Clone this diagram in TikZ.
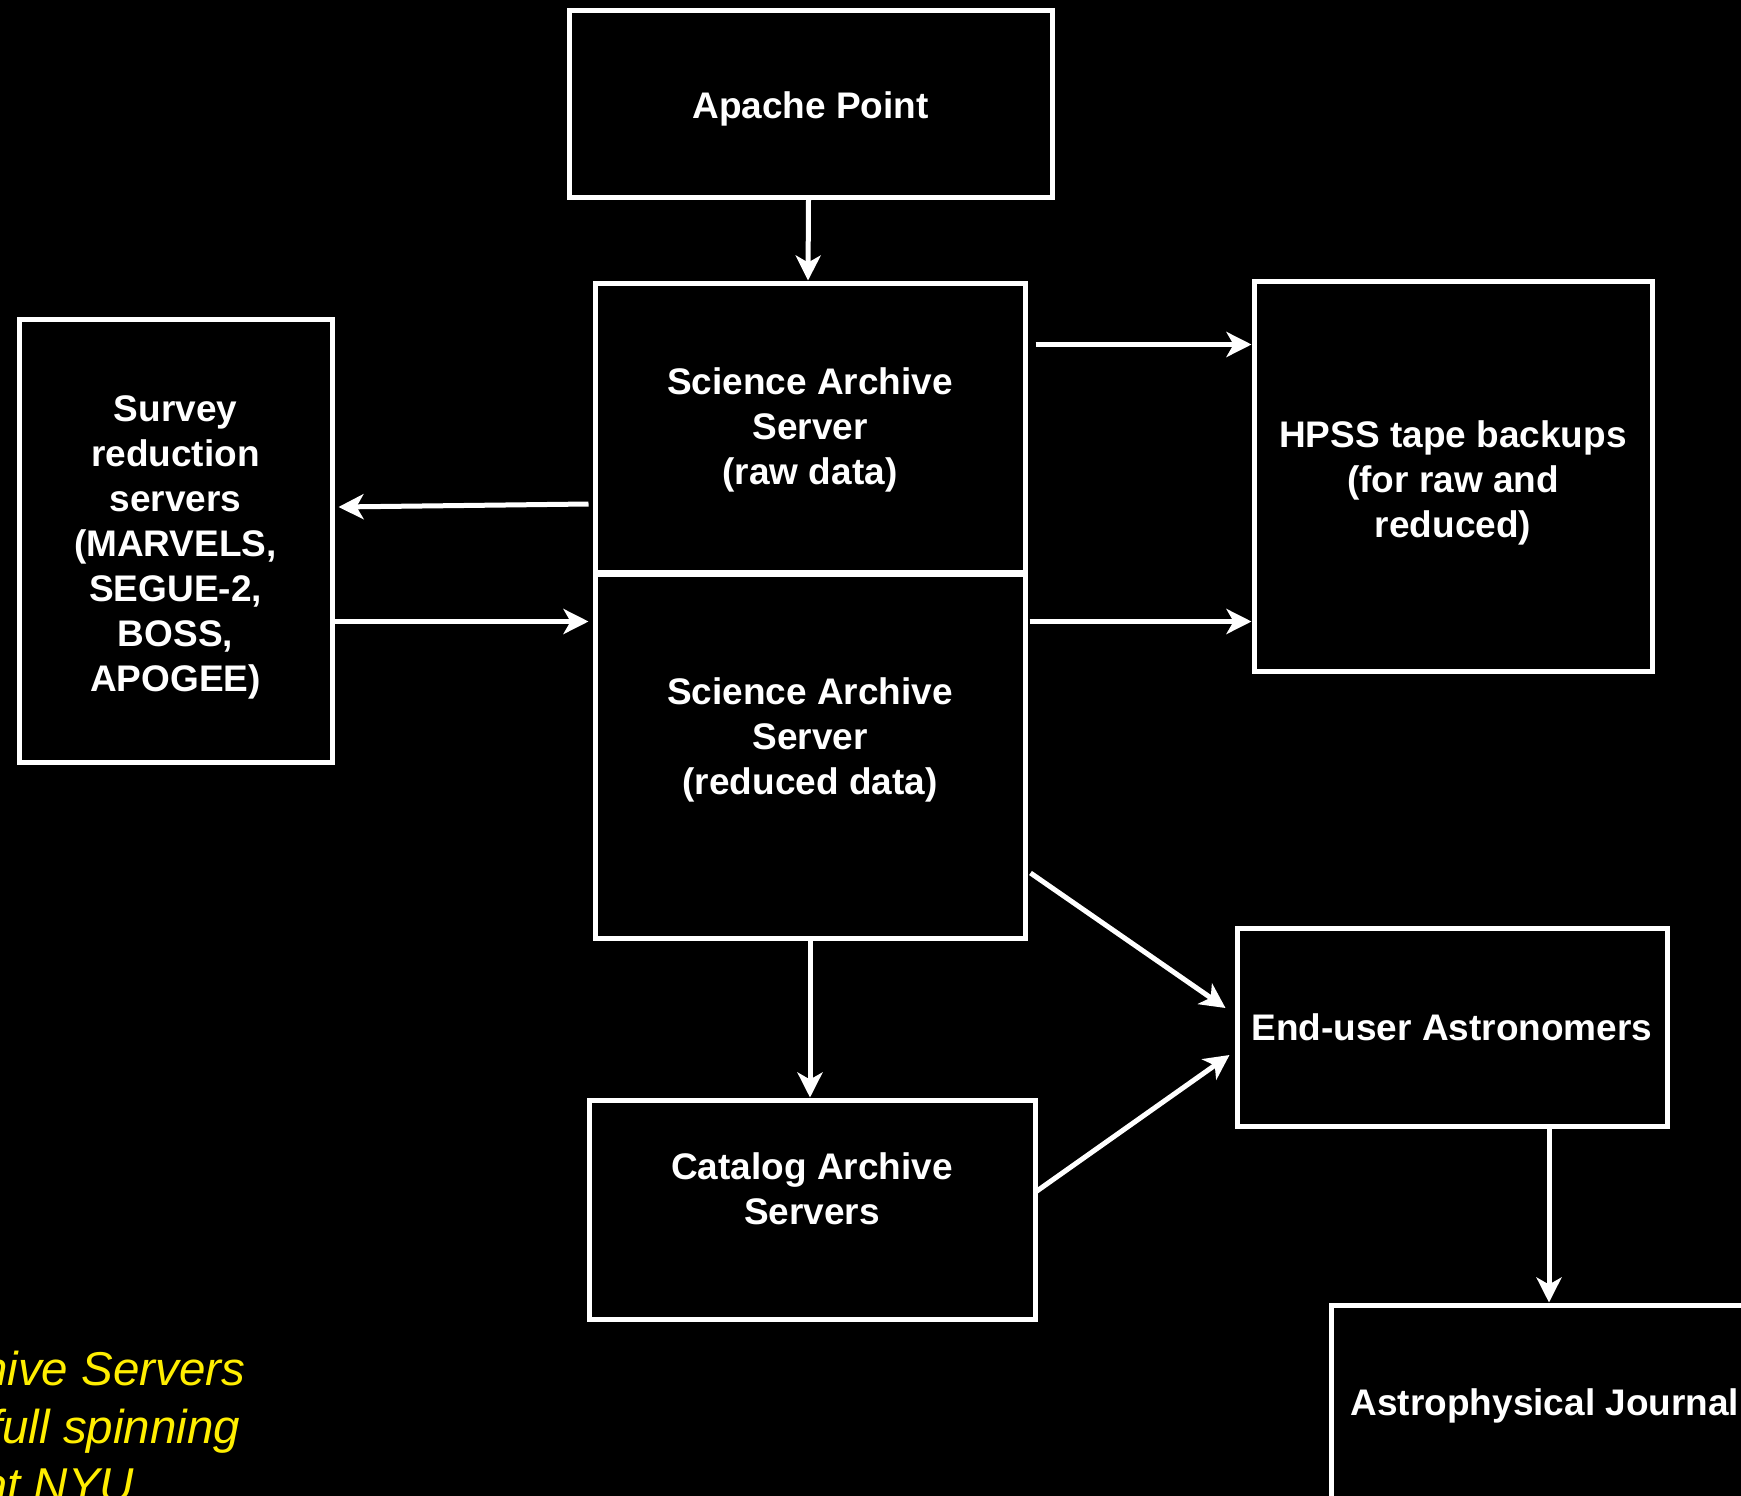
\documentclass[tikz,border=0pt]{standalone}
\usepackage{fontspec}
\setmainfont{Liberation Sans}
\usepackage{tikz}
\usetikzlibrary{calc}
\usetikzlibrary{arrows.meta}
\definecolor{notey}{RGB}{255,238,0}
\newcommand{\blockw}[7]{\node[blk, minimum width=#4pt, minimum height=#5pt] (#1) at (#2,#3) {};
    \node[lbl] (#1-t) at ([yshift=#6pt]#1.center) {#7};}

\begin{document}
\begin{tikzpicture}[x=1pt, y=-1pt,
    blk/.style={draw=white, line width=5pt, fill=black, inner sep=0pt},
    lbl/.style={text=white, align=center, inner sep=0pt, font=\fontsize{37}{45}\selectfont\bfseries},
    arr/.style={draw=white, line width=5pt, -{Stealth[length=25pt, width=25pt, inset=7pt]}},
    note/.style={text=notey, anchor=base west, inner sep=0pt, font=\fontsize{47.5}{58}\selectfont\itshape}]
        \useasboundingbox (0,0) rectangle (1741,1496);
        \fill[black] (0,0) rectangle (1741,1496);
        \clip (0,0) rectangle (1741,1496);
        % top row
        \blockw{apache}{810.5}{104}{483}{186}{-4.5}{Apache Point}
        % archive servers
        \blockw{raw}{810}{427.5}{430}{289}{-2}{Science Archive\\Server\\(raw data)}
        \blockw{red}{810}{756}{430}{364}{16}{Science Archive\\Server\\(reduced data)}
        \blockw{catalog}{812}{1209.5}{446}{219}{20.5}{Catalog Archive\\Servers}
        % left and right
        \blockw{survey}{175.5}{540.5}{313}{443}{-6.5}{Survey\\reduction\\servers\\(MARVELS,\\SEGUE-2,\\BOSS,\\APOGEE)}
        \blockw{hpss}{1453}{476}{398}{390}{-6.5}{HPSS tape backups\\(for raw and\\reduced)}
        \blockw{enduser}{1452}{1027}{430}{198}{0}{End-user Astronomers}
        \blockw{astro}{1545}{1404}{428}{198}{-2}{Astrophysical Journal}
        % yellow note
        \node[note] (note1) at (-19,1385) {hive Servers};
        \node[note] (note2) at (-11,1443) {full spinning};
        \node[note] (note3) at (-19,1501) {at NYU};
        % arrows
        \draw[arr] ([xshift=-2pt]apache.south) -- ([xshift=-2pt]raw.north);
        \draw[arr] ($(raw.north east)+(8,64)$) coordinate (p1) -- (p1 -| hpss.west);
        \draw[arr] ($(red.north east)+(2,50)$) coordinate (p2) -- (p2 -| hpss.west);
        \draw[arr] (survey.east |- p2) -- ($(red.west |- p2)+(-4,0)$);
        \draw[arr] ($(raw.west)+(-4,76.5)$) -- ($(survey.east)+(4,-33.5)$);
        \draw[arr] ($(red.east)+(3,117)$) -- ($(enduser.west)+(-9,-19)$);
        \draw[arr] ($(catalog.east)+(-2,-17.5)$) -- ($(enduser.west)+(-5,28)$);
        \draw[arr] (red.south) -- (red.south |- catalog.north);
        \draw[arr] ([xshift=4pt]enduser.south -| astro.north) -- ([xshift=4pt]astro.north);
    \end{tikzpicture}
\end{document}
